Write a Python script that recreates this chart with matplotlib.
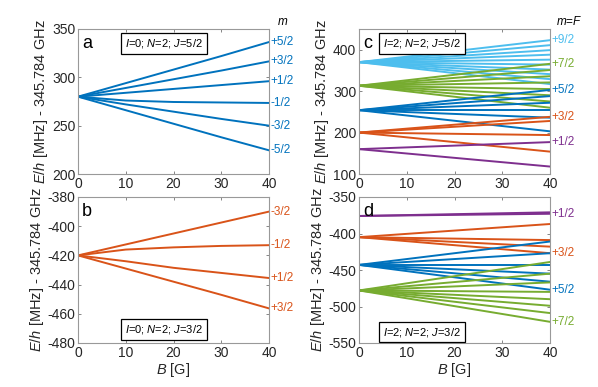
import matplotlib
matplotlib.use('Agg')
import matplotlib.pyplot as plt

plt.rcParams['font.family'] = ['Liberation Sans', 'DejaVu Sans']
plt.rcParams['mathtext.fontset'] = 'custom'
plt.rcParams['mathtext.rm'] = 'Liberation Sans'
plt.rcParams['mathtext.it'] = 'Liberation Sans:italic'
plt.rcParams['axes.unicode_minus'] = False

# MATLAB default colours
BLUE = '#0072BD'
ORANGE = '#D95319'
PURPLE = '#7E2F8E'
GREEN = '#77AC30'
CYAN = '#4DBEEE'

# panel a / b: B grid and level energies (MHz)
B = [0, 10, 20, 30, 40]
a_labels = ['+5/2', '+3/2', '+1/2', '-1/2', '-3/2', '-5/2']
a_lines = [
    [280, 294, 308, 322, 336.5],
    [280, 289, 298, 307, 316.5],
    [280, 284, 288, 292, 296],
    [280, 276, 274.5, 274, 273.5],
    [280, 272, 264.5, 257, 250],
    [280, 266, 252, 238, 224.5],
]
b_labels = ['-3/2', '-1/2', '+1/2', '+3/2']
b_lines = [
    [-420, -412.5, -405, -397.5, -390],
    [-420, -416, -414.5, -413.5, -413],
    [-420, -424, -428.5, -432, -435.5],
    [-420, -429, -438, -447, -456.3],
]

# panel c / d: each F manifold starts at one energy at B=0 and fans out
B_cd = [0, 40]
c_labels = ['+9/2', '+7/2', '+5/2', '+3/2', '+1/2']
c_colors = [CYAN, GREEN, BLUE, ORANGE, PURPLE]
c_start = [370, 313, 254, 200, 160]
c_end = [
    [423, 411, 399, 388, 376, 364, 352, 341, 329, 317],
    [366, 351, 336, 321, 305, 290, 275, 260],
    [303, 288, 272, 254, 236, 203],
    [238, 228, 194, 154],
    [177, 118],
]
d_labels = ['+1/2', '+3/2', '+5/2', '+7/2']
d_colors = [PURPLE, ORANGE, BLUE, GREEN]
d_start = [-376, -405, -443, -478]
d_end = [
    [-371, -373],
    [-387, -409, -418, -427],
    [-411, -427, -443, -455, -466, -477],
    [-439, -455, -467, -480, -490, -499, -509, -521],
]

W, H = 598, 387
fig = plt.figure(figsize=(W / 100, H / 100), dpi=100)


def px_axes(x0, y0, x1, y1):
    return fig.add_axes([x0 / W, 1 - y1 / H, (x1 - x0) / W, (y1 - y0) / H])


def style(ax, ylim, yticks):
    ax.set_xlim(0, 40)
    ax.set_ylim(*ylim)
    ax.set_xticks([0, 10, 20, 30, 40])
    ax.set_yticks(yticks)
    ax.tick_params(direction='in', length=2.5, width=0.6, top=True, right=True,
                   labelsize=10, colors='0.45', labelcolor='#262626', pad=2)
    for s in ax.spines.values():
        s.set_color('0.6')
        s.set_linewidth(0.8)
    ax.set_ylabel('$E/h$ [MHz] - 345.784 GHz', fontsize=10.5, color='#262626', labelpad=1)


def info_box(ax, x, y, text):
    ax.text(x, y, text, transform=ax.transAxes, ha='center', va='center', fontsize=8,
            bbox=dict(boxstyle='square,pad=0.35', fc='white', ec='black', lw=0.9))


ylab = '$I$=%d; $N$=2; $J$=%s'
LW = 1.4
LFS = 8.5

# a
ax = px_axes(78, 29, 269, 174)
for vals, lab in zip(a_lines, a_labels):
    ax.plot(B, vals, color=BLUE, lw=LW)
    ax.text(40.4, vals[-1], lab, color=BLUE, fontsize=LFS, va='center', ha='left', clip_on=False)
style(ax, (200, 350), [200, 250, 300, 350])
ax.text(0.02, 0.96, 'a', transform=ax.transAxes, fontsize=13, va='top')
info_box(ax, 0.45, 0.9, ylab % (0, '5/2'))
ax.text(1.07, 1.05, '$m$', transform=ax.transAxes, fontsize=8.5, ha='center', va='center')

# b
ax = px_axes(78, 197, 269, 343)
for vals, lab in zip(b_lines, b_labels):
    ax.plot(B, vals, color=ORANGE, lw=LW)
    ax.text(40.4, vals[-1], lab, color=ORANGE, fontsize=LFS, va='center', ha='left', clip_on=False)
style(ax, (-480, -380), [-480, -460, -440, -420, -400, -380])
ax.text(0.02, 0.96, 'b', transform=ax.transAxes, fontsize=13, va='top')
info_box(ax, 0.45, 0.09, ylab % (0, '3/2'))
ax.set_xlabel('$B$ [G]', fontsize=10.5, color='#262626', labelpad=1)

# c
ax = px_axes(359, 29, 550, 174)
for e0, ends, col, lab in zip(c_start, c_end, c_colors, c_labels):
    for e1 in ends:
        ax.plot(B_cd, [e0, e1], color=col, lw=LW)
    ax.text(40.4, max(ends), lab, color=col, fontsize=LFS, va='center', ha='left', clip_on=False)
style(ax, (100, 450), [100, 200, 300, 400])
ax.text(0.02, 0.96, 'c', transform=ax.transAxes, fontsize=13, va='top')
info_box(ax, 0.33, 0.9, ylab % (2, '5/2'))
ax.text(1.1, 1.05, '$m$=$F$', transform=ax.transAxes, fontsize=8.5, ha='center', va='center')

# d
ax = px_axes(359, 197, 550, 343)
for e0, ends, col, lab in zip(d_start, d_end, d_colors, d_labels):
    for e1 in ends:
        ax.plot(B_cd, [e0, e1], color=col, lw=LW)
    ax.text(40.4, min(ends), lab, color=col, fontsize=LFS, va='center', ha='left', clip_on=False)
style(ax, (-550, -350), [-550, -500, -450, -400, -350])
ax.text(0.02, 0.96, 'd', transform=ax.transAxes, fontsize=13, va='top')
info_box(ax, 0.33, 0.075, ylab % (2, '3/2'))
ax.set_xlabel('$B$ [G]', fontsize=10.5, color='#262626', labelpad=1)

fig.savefig('out.png', dpi=100)
